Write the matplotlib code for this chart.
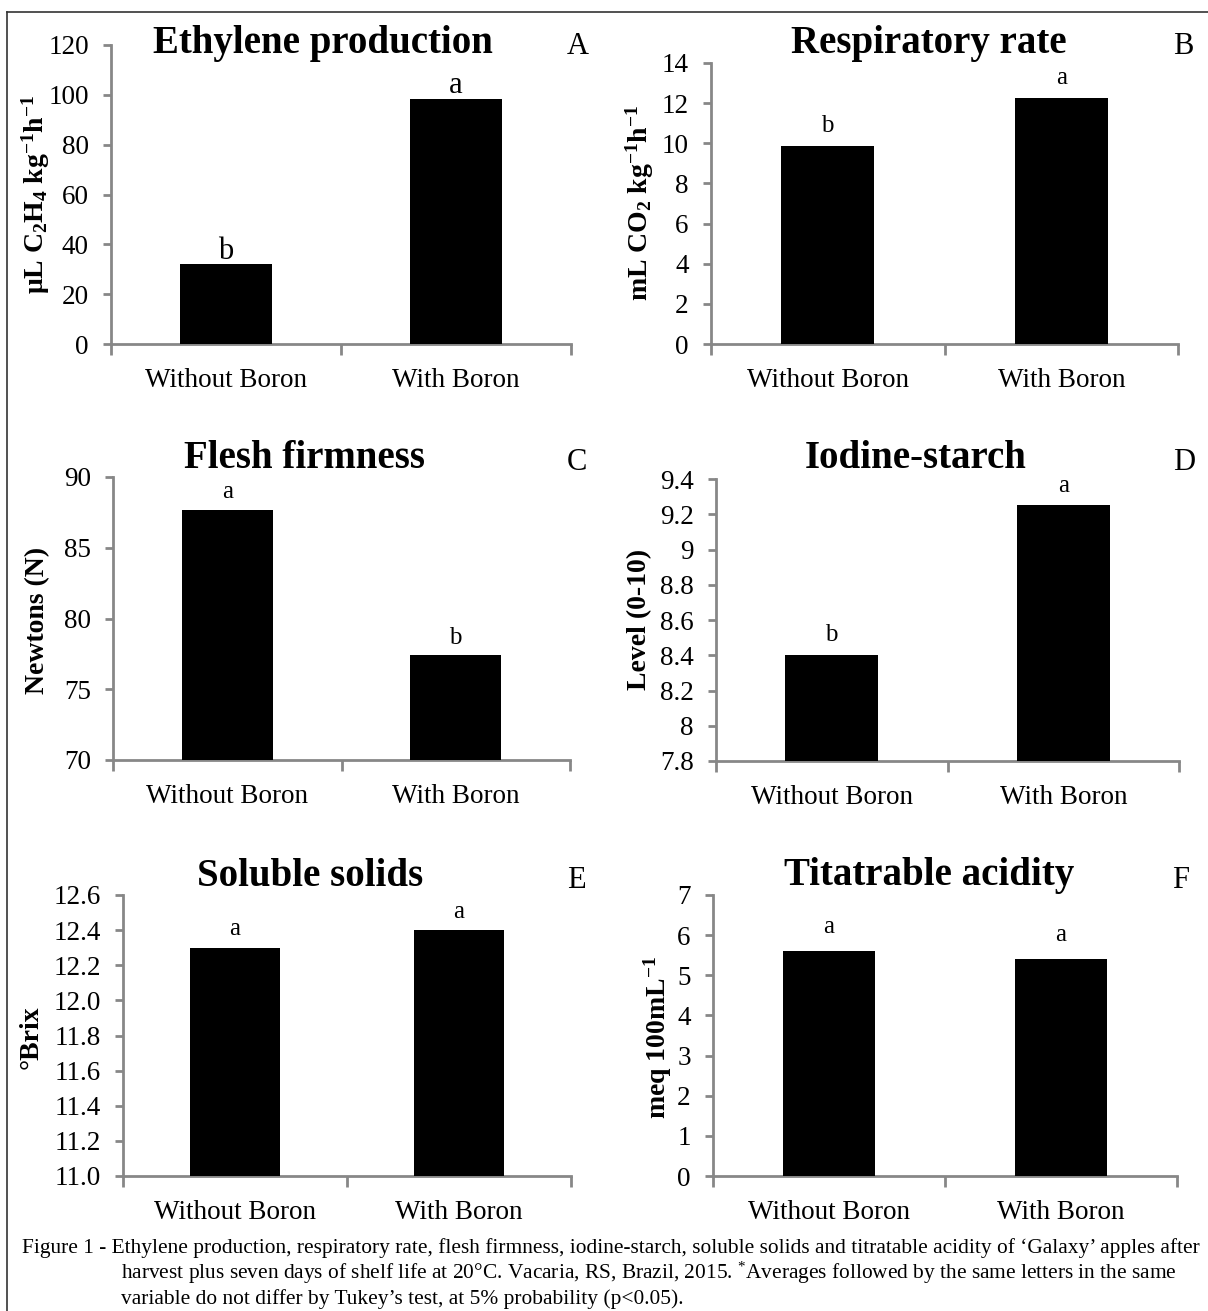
"""Figure 1 - six bar panels (Galaxy apples, with / without boron)."""
import matplotlib
matplotlib.use("Agg")
import matplotlib.pyplot as plt
from matplotlib.lines import Line2D
from matplotlib.ticker import FixedLocator, FuncFormatter

W, H = 1208, 1311
GRAY = "#878787"
plt.rcParams.update({"font.family": ["Liberation Serif", "DejaVu Serif"],
                     "mathtext.fontset": "custom",
                     "mathtext.rm": "Liberation Serif",
                     "mathtext.it": "Liberation Serif:italic",
                     "mathtext.bf": "Liberation Serif:bold"})

# ── data ──
categories = ["Without Boron", "With Boron"]
ethylene = [32.0, 98.5]
respiration = [9.85, 12.25]
firmness = [87.7, 77.4]
starch = [8.4, 9.25]
solids = [12.3, 12.4]
acidity = [5.6, 5.4]

ethylene_letters = ["b", "a"]
respiration_letters = ["b", "a"]
firmness_letters = ["a", "b"]
starch_letters = ["b", "a"]
solids_letters = ["a", "a"]
acidity_letters = ["a", "a"]

ethylene_ticks = [0, 20, 40, 60, 80, 100, 120]
respiration_ticks = [0, 2, 4, 6, 8, 10, 12, 14]
firmness_ticks = [70, 75, 80, 85, 90]
starch_ticks = [7.8, 8.0, 8.2, 8.4, 8.6, 8.8, 9.0, 9.2, 9.4]
solids_ticks = [11.0, 11.2, 11.4, 11.6, 11.8, 12.0, 12.2, 12.4, 12.6]
acidity_ticks = [0, 1, 2, 3, 4, 5, 6, 7]

fig = plt.figure(figsize=(W / 100, H / 100), dpi=100)


def px_axes(l, t, r, b):
    return fig.add_axes([l / W, 1 - b / H, (r - l) / W, (b - t) / H])


def panel(box, values, letters, ticks, fmt, title, tpos, tag, tagpos,
          ylabel, ylpos, gap, lsize=18):
    ax = px_axes(*box)
    x = list(range(len(categories)))
    ax.bar(x, values, width=0.4, color="black", zorder=3)
    for xi, v, s in zip(x, values, letters):
        ax.annotate(s, (xi, v), xytext=(0, gap), textcoords="offset points",
                    ha="center", va="baseline", fontsize=lsize)
    ax.set_xlim(-0.5, 1.5)
    ax.set_ylim(ticks[0], ticks[-1])
    ax.set_yticks(ticks)
    ax.yaxis.set_major_formatter(FuncFormatter(lambda v, p: fmt(v)))
    # category boundaries as ticks, labels on minor ticks
    ax.xaxis.set_major_locator(FixedLocator([-0.5, 0.5, 1.5]))
    ax.xaxis.set_major_formatter(FuncFormatter(lambda v, p: ""))
    ax.xaxis.set_minor_locator(FixedLocator(x))
    ax.set_xticklabels(categories, minor=True)
    ax.tick_params(axis="x", which="major", length=8, width=2, color=GRAY)
    ax.tick_params(axis="x", which="minor", length=0, pad=17, labelsize=19.5)
    ax.tick_params(axis="y", length=6, width=2, color=GRAY, pad=10,
                   labelsize=19.5)
    for side in ("top", "right"):
        ax.spines[side].set_visible(False)
    for side in ("left", "bottom"):
        ax.spines[side].set_color(GRAY)
        ax.spines[side].set_linewidth(2)
    ax.patch.set_alpha(0)

    fig.text(tpos[0] / W, 1 - tpos[1] / H, title, ha="center", va="center",
             fontsize=28, fontweight="bold")
    fig.text(tagpos[0] / W, 1 - tagpos[1] / H, tag, ha="center",
             va="center", fontsize=22)
    fig.text(ylpos[0] / W, 1 - ylpos[1] / H, ylabel, ha="center",
             va="center", rotation=90, fontsize=20, fontweight="bold")
    return ax


def g(v):
    return f"{v:g}"


panel((111, 45, 571, 344), ethylene, ethylene_letters, ethylene_ticks, g,
      "Ethylene production", (323, 43), "A", (578, 47),
      r"μL C$_\mathbf{2}$H$_\mathbf{4}$ kg$^\mathbf{-1}$h$^\mathbf{-1}$",
      (36, 194), 4, lsize=22)
panel((711, 63, 1178, 344), respiration, respiration_letters,
      respiration_ticks, g,
      "Respiratory rate", (929, 43), "B", (1183, 47),
      r"mL CO$_\mathbf{2}$ kg$^\mathbf{-1}$h$^\mathbf{-1}$", (640, 203), 10)
panel((113, 477, 570, 760), firmness, firmness_letters, firmness_ticks, g,
      "Flesh firmness", (305, 459), "C", (577, 463),
      "Newtons (N)", (38, 620), 8)
panel((716, 479, 1179, 761), starch, starch_letters, starch_ticks, g,
      "Iodine-starch", (916, 459), "D", (1184, 463),
      "Level (0-10)", (640, 619), 10)
panel((123, 895, 571, 1176), solids, solids_letters, solids_ticks,
      lambda v: f"{v:.1f}",
      "Soluble solids", (310, 876), "E", (576, 880),
      "°Brix", (31, 1037), 9)
panel((713, 895, 1177, 1176), acidity, acidity_letters, acidity_ticks, g,
      "Titatrable acidity", (929, 876), "F", (1181, 880),
      r"meq 100mL$^\mathbf{-1}$", (658, 1037), 13)

# frame (left and top only, as in the reference)
fig.add_artist(Line2D([7 / W, 7 / W], [0, 1 - 12 / H], color="#333333", lw=1.2))
fig.add_artist(Line2D([7 / W, 1], [1 - 12 / H, 1 - 12 / H], color="#333333", lw=1.2))

cap = 15.4
fig.text(22 / W, 1 - 1248 / H,
         "Figure 1 - Ethylene production, respiratory rate, flesh firmness, "
         "iodine-starch, soluble solids and titratable acidity of \u2018Galaxy\u2019 apples after",
         ha="left", va="center", fontsize=cap)
fig.text(121 / W, 1 - 1273 / H,
         "harvest plus seven days of shelf life at 20°C. Vacaria, RS, Brazil, 2015. "
         r"$^{*}$Averages followed by the same letters in the same",
         ha="left", va="center", fontsize=cap)
fig.text(121 / W, 1 - 1299 / H,
         "variable do not differ by Tukey\u2019s test, at 5% probability (p<0.05).",
         ha="left", va="center", fontsize=cap)

fig.savefig("out.png", dpi=100)
plt.close(fig)
